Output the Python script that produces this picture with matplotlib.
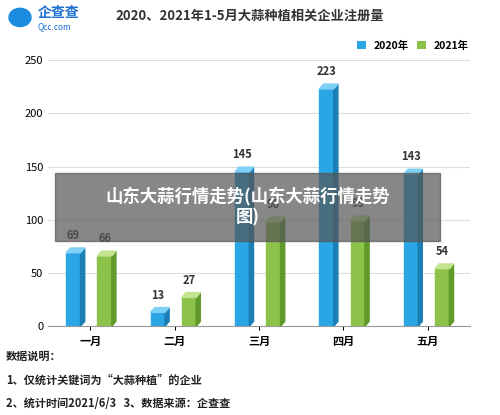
import matplotlib.pyplot as plt
from matplotlib.patches import Polygon, Rectangle, Circle

plt.rcParams['font.family'] = ['Noto Sans CJK SC', 'DejaVu Sans']

months = ['一月', '二月', '三月', '四月', '五月']
v2020 = [69, 13, 145, 223, 143]
v2021 = [66, 27, 98, 99, 54]
series = [('2020年', v2020, '#2aa6e4', '#1b7fb5', '#7fd0f5', -0.2),
          ('2021年', v2021, '#8cc24a', '#5f9a2a', '#c3e38f', 0.17)]

fig = plt.figure(figsize=(5.0, 4.15), dpi=100)
ax = fig.add_axes([0.096, 0.214, 0.844, 0.641])

w = 0.17
dx, dy = 0.05, 4.5
for name, vals, c, cs, ct, off in series:
    for i, v in enumerate(vals):
        x0 = i + off - w / 2
        ax.add_patch(Rectangle((x0, 0), w, v, color=c, zorder=3))
        ax.add_patch(Polygon([(x0 + w, 0), (x0 + w + dx, dy), (x0 + w + dx, v + dy), (x0 + w, v)],
                             color=cs, zorder=3))
        ax.add_patch(Polygon([(x0, v), (x0 + dx, v + dy), (x0 + w + dx, v + dy), (x0 + w, v)],
                             color=ct, zorder=3))
        ax.text(x0 + w / 2, v + 10, str(v), ha='center', va='bottom', fontsize=8,
                fontweight='bold', color='#333333')
    ax.bar([0], [0], color=c, label=name)

ax.set_xlim(-0.5, 4.5)
ax.set_ylim(0, 250)
ax.set_yticks(range(0, 251, 50))
ax.set_xticks(range(len(months)))
ax.set_xticklabels(months, fontsize=8, fontweight='bold')
ax.tick_params(axis='y', labelsize=8, length=0)
ax.tick_params(axis='x', length=3)
ax.grid(axis='y', color='#dddddd', lw=0.8, zorder=0)
for s in ['top', 'right', 'left']:
    ax.spines[s].set_visible(False)
ax.spines['bottom'].set_color('#999999')
ax.legend(loc='lower right', bbox_to_anchor=(1.02, 1.0), ncol=2, frameon=False,
          fontsize=7.5, handlelength=0.8, handleheight=0.8, columnspacing=0.8,
          prop={'weight': 'bold', 'size': 7.5})

fig.text(0.50, 0.962, '2020、2021年1-5月大蒜种植相关企业注册量', ha='center', va='center',
         fontsize=9.5, fontweight='bold', color='#333333')

# logo
fig.patches.append(Circle((0.04, 0.958), 0.022, transform=fig.transFigure, color='#1a8de0'))
fig.text(0.075, 0.968, '企查查', fontsize=10, fontweight='bold', color='#1a6fd0', va='center')
fig.text(0.075, 0.935, 'Qcc.com', fontsize=6, color='#1a6fd0', va='center')

# overlay band
fig.patches.append(Rectangle((0.11, 0.42), 0.77, 0.163, transform=fig.transFigure,
                             color='#555555', alpha=0.7, zorder=10))
fig.text(0.495, 0.503, '山东大蒜行情走势(山东大蒜行情走势\n图)', ha='center', va='center',
         fontsize=12.5, fontweight='bold', color='white', zorder=11, linespacing=1.2)

fig.text(0.012, 0.133, '数据说明：', fontsize=8, fontweight='bold', color='#222222')
fig.text(0.012, 0.075, '1、仅统计关键词为“大蒜种植”的企业', fontsize=8, fontweight='bold', color='#222222')
fig.text(0.012, 0.02, '2、统计时间2021/6/3   3、数据来源：企查查', fontsize=8, fontweight='bold', color='#222222')

fig.savefig('out.png', dpi=100)
